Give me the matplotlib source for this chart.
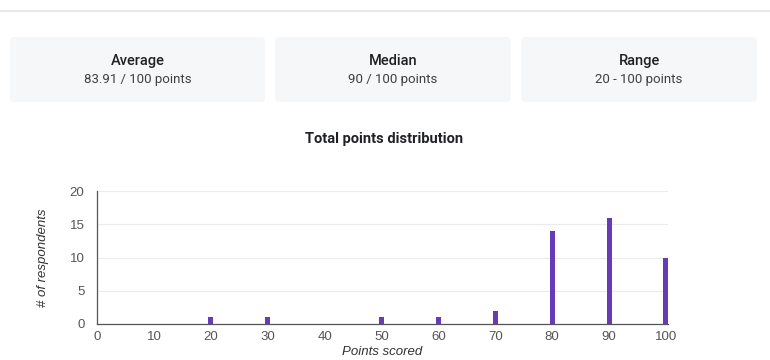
import matplotlib.pyplot as plt
from matplotlib.patches import FancyBboxPatch

# score buckets and how many respondents landed in each
scores = [20, 30, 50, 60, 70, 80, 90, 100]
respondents = [1, 1, 1, 1, 2, 14, 16, 10]

x_ticks = [0, 10, 20, 30, 40, 50, 60, 70, 80, 90, 100]
y_ticks = [0, 5, 10, 15, 20]

card_titles = ['Average', 'Median', 'Range']
card_values = ['83.91 / 100 points', '90 / 100 points', '20 - 100 points']

W, H = 770, 360
fig = plt.figure(figsize=(W / 100, H / 100), dpi=100)
fig.patch.set_facecolor('white')

##### pixel-space overlay for the summary cards and separator
bg = fig.add_axes([0, 0, 1, 1])
bg.set_xlim(0, W)
bg.set_ylim(H, 0)
bg.axis('off')

bg.plot([0, W], [11, 11], color='#e3e3e3', lw=1.2)

card_x = [(10, 265), (275, 511), (521, 757)]
for (x0, x1), title, value in zip(card_x, card_titles, card_values):
    card = FancyBboxPatch((x0, 37), x1 - x0, 65,
                          boxstyle='round,pad=0,rounding_size=4',
                          facecolor='#f6f7f8', edgecolor='none')
    bg.add_patch(card)
    cx = (x0 + x1) / 2
    bg.text(cx, 61, title, ha='center', va='center', fontsize=10.5,
            family='Roboto', fontweight='medium', color='#202124')
    bg.text(cx, 80, value, ha='center', va='center', fontsize=9.5,
            family='Roboto', color='#3c4043')

bg.text(384, 139, 'Total points distribution', ha='center', va='center',
        fontsize=10.5, family='Roboto', fontweight='bold', color='#202124')

##### histogram axes
ax = fig.add_axes([97 / W, 1 - 324 / H, (668 - 97) / W, (324 - 191) / H])
ax.bar(scores, respondents, width=0.9, color='#673ab7', zorder=3)

ax.set_xlim(0, 100.35)
ax.set_ylim(0, 20)
ax.set_xticks(x_ticks)
ax.set_yticks(y_ticks)
ax.tick_params(length=0, labelsize=9.5, labelcolor='#555555')
ax.tick_params(axis='x', pad=5)
ax.tick_params(axis='y', pad=9)
for lab in ax.get_xticklabels() + ax.get_yticklabels():
    lab.set_family('Liberation Sans')

ax.grid(axis='y', color='#ebebeb', lw=0.8, zorder=0)
ax.spines['top'].set_visible(False)
ax.spines['right'].set_visible(False)
ax.spines['left'].set_color('#555555')
ax.spines['bottom'].set_color('#555555')
ax.spines['left'].set_linewidth(0.9)
ax.spines['bottom'].set_linewidth(0.9)

ax.set_xlabel('Points scored', fontsize=9.5, style='italic', family='Liberation Sans',
              color='#333333', labelpad=2)
ax.set_ylabel('# of respondents', fontsize=9.5, style='italic', family='Liberation Sans',
              color='#333333', labelpad=15)

fig.savefig('out.png', dpi=100)
